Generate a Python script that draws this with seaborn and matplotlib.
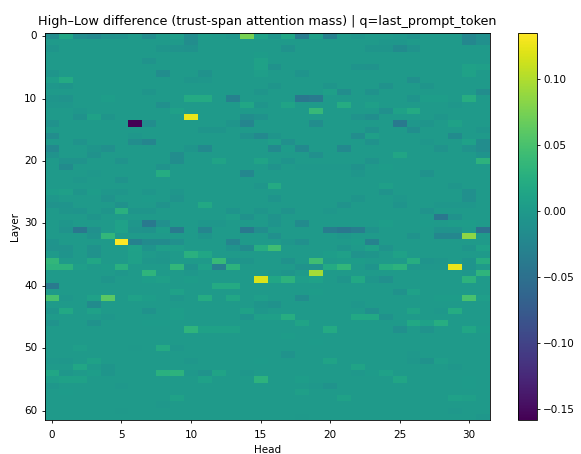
import matplotlib
matplotlib.use("Agg")
import matplotlib.pyplot as plt
import numpy as np
import pandas as pd
import seaborn as sns

# values in thousandths. one line per layer, 32 heads
layer_values = [
    [-15,15,-15,-20,-10,-8,0,-15,0,5,-15,3,0,-3,75,10,-5,15,-35,7,-30,0,-4,0,0,-2,-8,0,0,0,-22,-12],
    [0,0,0,0,0,0,0,0,0,0,-15,0,0,0,0,0,0,0,0,0,0,0,0,0,-3,-3,0,0,0,0,-22,-12],
    [-5,0,0,0,0,0,0,0,-5,-8,-10,0,0,0,0,0,0,-10,0,0,0,0,0,-5,-5,-18,-8,0,0,0,0,0],
    [0,0,0,0,0,0,0,0,0,0,0,0,0,0,0,3,0,0,0,0,0,0,0,0,0,0,0,0,0,0,0,0],
    [0,0,0,0,0,0,0,-8,0,0,0,0,0,0,0,10,0,0,0,0,0,0,0,0,0,0,0,0,0,0,0,0],
    [0,0,0,0,0,0,0,0,0,0,0,0,0,0,0,10,-10,0,0,0,0,0,-6,-8,0,0,0,0,0,0,10,6],
    [-5,0,0,0,0,0,0,0,-15,0,0,-10,0,0,0,5,0,0,-6,0,0,0,0,0,0,0,0,0,0,0,10,0],
    [5,20,0,0,0,0,0,0,0,0,-4,-3,0,0,0,0,0,0,0,0,0,0,0,0,0,0,-12,0,0,0,0,0],
    [-3,-5,0,0,0,0,0,0,0,0,0,0,0,0,0,0,-5,0,0,0,-5,0,0,0,-10,0,0,-5,0,0,0,0],
    [0,0,0,0,0,0,0,-5,0,0,0,0,0,0,0,-5,0,0,0,0,6,-15,0,-10,0,0,0,0,0,0,0,-15],
    [-5,-8,0,0,4,0,0,0,0,0,20,20,0,-30,0,0,0,0,-42,-38,0,0,0,0,0,0,-6,4,4,0,25,0],
    [-3,-3,0,0,0,0,0,0,-12,0,0,0,0,0,15,-5,0,12,0,0,0,22,0,6,0,0,0,0,0,-3,0,0],
    [0,0,-3,0,0,0,0,0,0,7,0,0,0,0,0,0,0,0,0,38,0,0,0,0,-12,10,20,0,0,0,0,0],
    [0,0,-10,10,-5,0,0,0,0,0,125,0,0,0,-15,-10,0,0,0,0,0,0,-8,-14,0,0,0,0,-4,0,0,0],
    [-10,0,0,0,0,0,-158,-15,0,0,0,0,0,-5,-25,0,0,0,0,-15,0,0,0,0,0,-40,-3,-5,0,10,0,0],
    [0,0,0,0,0,0,0,0,0,0,0,-5,-5,0,0,0,0,0,0,0,0,0,0,-10,0,0,-14,0,0,0,0,-4],
    [-15,0,0,0,0,0,-3,0,0,0,0,0,0,0,-10,-20,-5,0,0,0,0,0,-15,6,0,0,0,0,0,-18,0,0],
    [0,0,-8,0,0,0,-15,-25,0,0,0,0,0,0,0,0,6,-12,0,0,0,0,0,-10,0,0,0,-3,0,0,8,-15],
    [-20,0,0,-5,-12,0,0,0,0,0,-5,-20,0,0,0,0,-20,2,-20,0,0,-20,0,0,0,0,0,0,-8,0,-8,-15],
    [-8,0,0,-10,0,0,0,0,0,-15,0,0,0,0,0,0,0,0,0,-12,0,0,0,0,0,14,0,0,0,0,0,-6],
    [0,-8,-8,0,0,-8,0,0,0,-15,0,0,12,0,0,12,0,-6,0,0,0,0,0,-7,0,0,0,0,0,0,0,30],
    [0,-18,0,0,0,0,0,0,-8,0,0,0,0,0,0,0,-8,0,-2,-2,-2,-2,-10,0,3,0,0,0,0,0,0,0],
    [0,0,0,-2,0,0,0,0,22,0,0,0,0,0,-22,0,0,0,0,0,0,0,-4,0,0,0,0,-10,0,0,0,0],
    [0,0,-3,0,0,-8,0,0,0,0,0,0,0,0,0,0,0,0,0,0,0,0,0,0,0,0,0,0,0,0,0,0],
    [0,0,0,0,0,0,0,0,0,0,0,0,0,0,0,-4,20,0,0,0,0,0,0,0,6,0,0,0,0,-4,0,0],
    [4,6,-5,3,-3,-4,0,-4,0,-4,0,0,0,0,0,0,0,0,0,0,0,0,0,0,-8,0,0,0,0,0,-12,0],
    [-3,0,0,0,-7,0,0,2,0,-7,0,0,0,0,0,0,-6,0,0,0,0,0,-5,0,0,-3,0,0,0,0,-12,0],
    [-7,-6,0,0,0,-10,0,0,-8,0,0,18,0,0,0,0,0,0,0,0,0,-7,0,0,0,-6,0,0,-3,-3,-3,0],
    [0,-5,-6,0,-5,28,-5,-5,0,0,0,0,0,-6,0,-5,0,-8,0,0,-3,0,0,0,0,0,0,-8,0,0,0,0],
    [0,0,0,-5,0,0,0,0,0,0,0,0,0,5,-10,0,-8,0,0,0,0,0,0,0,0,0,0,0,-42,-10,0,0],
    [0,-4,0,0,0,8,-4,-40,-12,0,0,-3,-3,0,0,0,-6,0,-18,0,0,0,0,0,4,0,0,2,0,3,3,0],
    [0,-8,-42,-12,0,8,-8,-10,3,-38,0,-25,0,0,-40,-15,0,0,0,0,-35,-42,-35,-8,0,0,0,0,-7,-7,0,-50],
    [0,0,0,-8,35,0,0,0,0,0,0,-5,0,0,0,0,-12,0,0,0,0,-3,0,0,0,0,-8,0,-22,-22,85,0],
    [-6,0,0,0,0,135,-30,-18,-18,-12,0,0,0,-25,0,0,0,-4,-12,0,0,0,3,-28,0,0,0,0,0,0,0,0],
    [-8,-7,0,-10,0,0,8,-6,5,5,0,0,0,-6,-18,25,45,0,0,0,0,-5,0,8,-8,0,0,0,0,0,-5,8],
    [0,-6,0,-10,0,0,7,0,-3,0,28,15,0,0,0,0,0,0,0,0,4,7,-8,-5,0,10,0,0,0,0,0,0],
    [35,0,0,15,0,0,7,-3,-4,0,0,0,40,-6,-5,0,0,-10,0,45,0,3,3,0,0,0,24,-6,-4,0,-6,25],
    [30,30,5,0,3,28,0,0,0,35,-8,7,-32,30,0,0,0,0,-8,-7,20,35,0,-6,25,30,-3,-3,-3,125,-6,0],
    [0,0,0,0,0,-3,0,32,0,0,-3,0,0,0,0,0,-2,-5,0,95,0,0,0,0,0,0,0,0,0,0,-3,32],
    [0,0,0,0,-5,0,0,4,6,0,3,0,0,0,0,118,15,30,5,8,0,-5,18,-4,-12,0,0,0,0,0,30,0],
    [-38,0,0,0,0,0,0,0,0,0,0,0,20,20,0,0,0,0,0,0,0,0,0,0,0,0,0,0,0,0,0,0],
    [0,0,0,0,0,0,0,0,0,8,0,0,0,0,0,0,0,0,0,3,0,0,0,0,0,-10,8,0,0,0,0,0],
    [50,-3,0,8,60,0,8,4,0,-4,0,22,0,15,0,5,0,0,-15,0,0,0,0,0,0,0,0,0,3,3,50,5],
    [0,0,0,-18,0,0,0,0,0,0,0,0,0,0,0,-5,-10,0,0,0,0,0,-3,0,0,0,0,0,0,0,0,0],
    [-5,18,0,8,0,0,0,-10,0,4,0,0,0,0,10,-3,0,0,0,0,0,0,0,-12,0,0,12,0,-2,22,0,0],
    [0,0,0,0,-3,0,0,0,0,4,0,0,0,0,-6,6,6,25,0,0,0,0,18,18,-10,0,0,0,0,0,0,0],
    [-8,0,0,-10,0,0,0,2,2,0,0,0,0,0,0,0,0,0,12,0,0,0,0,0,0,0,18,8,25,0,0,0],
    [0,0,0,0,0,0,0,0,0,0,32,10,10,10,0,0,0,0,0,0,20,0,0,0,0,-12,0,-7,0,0,15,3],
    [0,0,0,0,0,0,0,0,0,0,0,0,0,0,0,0,0,3,0,0,0,0,0,0,0,0,0,0,0,0,0,0],
    [0,0,0,0,0,0,0,0,0,0,0,0,0,0,0,0,0,0,0,2,0,0,0,0,0,0,0,0,0,0,0,0],
    [0,0,5,0,0,0,-1,0,20,-3,0,0,0,0,0,0,0,0,0,0,0,0,0,0,0,0,0,0,0,0,0,0],
    [0,0,0,0,0,0,0,0,0,0,0,0,0,0,0,0,0,-8,0,0,0,0,0,0,0,0,-2,0,0,0,0,0],
    [-2,-3,0,10,0,0,0,0,0,0,-3,0,0,0,0,2,0,0,0,0,12,0,0,0,0,0,-3,-10,5,0,0,0],
    [0,0,15,0,-5,0,0,0,0,0,0,0,0,0,0,0,0,0,0,0,0,0,12,0,0,0,0,0,0,-3,0,0],
    [15,-3,0,4,-5,0,0,0,28,30,-2,-8,12,0,-3,0,0,0,0,0,0,0,-2,2,8,0,0,0,0,0,0,0],
    [5,10,10,0,0,0,0,0,0,0,0,8,0,0,0,30,0,0,4,0,0,0,0,0,0,14,0,0,0,0,2,0],
    [-3,0,0,0,0,-2,0,0,0,0,0,0,0,0,0,0,0,0,0,-2,-7,0,0,0,0,0,0,0,0,0,2,0],
    [0,2,0,0,0,0,0,0,0,0,0,0,0,0,0,0,0,0,6,0,0,0,0,0,0,0,0,0,0,0,0,0],
    [0,0,0,0,0,0,0,0,0,10,0,0,0,0,0,0,0,0,0,0,0,10,0,0,0,0,0,0,0,8,6,0],
    [0,0,0,0,0,0,0,0,-2,0,0,0,0,0,0,0,0,0,0,0,0,0,0,0,0,1,0,0,0,0,0,0],
    [0,0,0,0,0,-1,0,0,0,0,0,0,0,0,0,0,0,0,0,0,0,0,0,0,0,0,0,0,0,-2,0,0],
    [0,0,0,0,0,0,0,0,0,0,0,0,0,0,0,0,0,0,-1,0,0,0,0,0,0,0,0,0,0,0,0,-3],
]
heads = list(range(32))
layers = list(range(62))

df = pd.DataFrame(layer_values, index=layers, columns=heads) / 1000

fig = plt.figure(figsize=(5.81, 4.54), dpi=100)
ax = fig.add_axes([45 / 581, 1 - 420 / 454, 445 / 581, 387 / 454])
cax = fig.add_axes([518 / 581, 1 - 420 / 454, 19 / 581, 387 / 454])

sns.heatmap(df, cmap="viridis", ax=ax, cbar_ax=cax, xticklabels=5, yticklabels=10)

for spine in ax.spines.values():
    spine.set_visible(True)
    spine.set_linewidth(0.6)
ax.tick_params(labelsize=7.5, length=2.5, width=0.6, pad=2)
ax.tick_params(axis="x", labelrotation=0, pad=5)
ax.tick_params(axis="y", labelrotation=0, pad=3)
ax.set_xlabel("Head", fontsize=7.5, labelpad=3)
ax.set_ylabel("Layer", fontsize=7.5, labelpad=3)
ax.set_title("High–Low difference (trust-span attention mass) | q=last_prompt_token", fontsize=9.2, pad=6)

cax.tick_params(labelsize=7.5, length=2.5, width=0.6, pad=2)
cbar = ax.collections[0].colorbar
cbar.outline.set_visible(True)
cbar.outline.set_linewidth(0.6)

fig.savefig("out.png", dpi=100)
